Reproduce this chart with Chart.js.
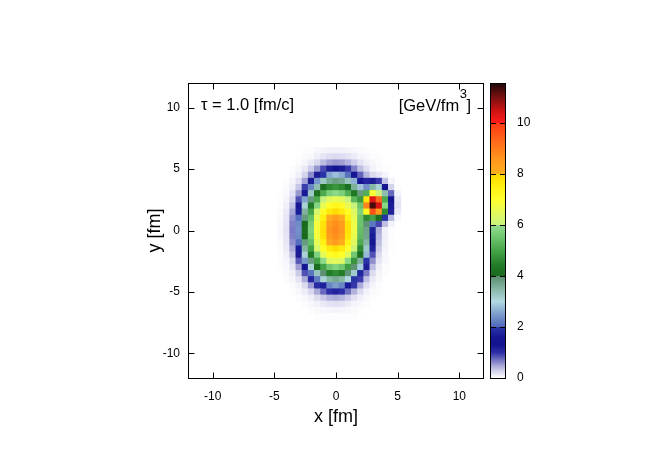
<!DOCTYPE html>
<html>
<head>
<meta charset="utf-8">
<script src="https://cdn.jsdelivr.net/npm/chart.js@4.4.1/dist/chart.umd.min.js"></script>
<style>
  html, body { margin: 0; background: #fff; }
</style>
</head>
<body>
<canvas id="c" width="670" height="469"></canvas>
<script>
/* ── energy density [GeV/fm^3] on a 0.5 fm grid ── */
const XS = [-5,-4.5,-4,-3.5,-3,-2.5,-2,-1.5,-1,-0.5,0,0.5,1,1.5,2,2.5,3,3.5,4,4.5,5];
const YS = [6.5,6,5.5,5,4.5,4,3.5,3,2.5,2,1.5,1,0.5,0,-0.5,-1,-1.5,-2,-2.5,-3,-3.5,-4,-4.5,-5,-5.5,-6,-6.5,-7];
const EPS = [
  [0,0,0,0,0,.01,.02,.04,.06,.08,.08,.08,.07,.05,.03,.02,.01,0,0,0,0],
  [0,0,0,0,.01,.03,.05,.1,.16,.2,.22,.21,.17,.12,.07,.04,.02,.01,0,0,0],
  [0,0,0,0,.02,.06,.13,.24,.38,.51,.55,.52,.42,.29,.17,.09,.04,.02,0,0,0],
  [0,0,0,.02,.05,.13,.29,.55,.88,1.2,1.3,1.22,.96,.65,.37,.2,.08,.03,.01,0,0],
  [0,0,0,.03,.09,.26,.6,1.2,2.0,2.6,2.8,2.62,2.1,1.38,.78,.41,.22,.15,.07,0,0],
  [0,0,.02,.06,.19,.51,1.2,2.45,3.23,3.65,3.8,3.68,3.3,2.68,1.6,1.1,1.2,.95,.35,.07,0],
  [0,0,.03,.1,.33,.94,2.3,3.4,4.1,4.6,4.8,4.62,4.14,3.58,2.82,2.37,3.5,3.1,1.28,.26,.01],
  [0,.01,.05,.17,.55,1.65,3.2,4.15,5.1,5.7,5.9,5.72,5.16,4.32,3.85,5.16,6.9,6.07,3.39,.76,.08],
  [0,.01,.07,.25,.85,2.55,3.85,5.05,6.0,6.45,6.6,6.46,6.03,5.26,4.82,7.69,10.3,9.3,5.09,1.3,.15],
  [0,.02,.09,.35,1.25,3.1,4.4,5.8,6.57,7.1,7.3,7.12,6.59,6.0,5.5,8.87,11.3,10.4,5.83,1.66,.17],
  [0,.03,.12,.48,1.7,3.55,4.98,6.27,7.12,7.65,7.9,7.66,7.12,6.4,5.75,7.17,9.6,8.45,4.64,1.16,.13],
  [0,.03,.15,.58,2.1,3.85,5.4,6.58,7.5,8.16,8.4,8.15,7.48,6.56,5.54,4.63,4.96,4.1,1.96,.4,.04],
  [0,.04,.16,.65,2.35,4.0,5.65,6.8,7.77,8.45,8.7,8.45,7.76,6.7,5.5,3.94,2.16,.9,.36,.08,0],
  [0,.04,.17,.68,2.4,4.05,5.75,6.85,7.85,8.56,8.8,8.54,7.8,6.7,5.42,3.76,1.77,.45,.09,.02,0],
  [0,.04,.16,.65,2.35,4.0,5.65,6.8,7.77,8.45,8.7,8.44,7.65,6.63,5.35,3.7,1.65,.41,.09,.02,0],
  [0,.03,.14,.58,2.07,3.83,5.4,6.57,7.48,8.15,8.4,8.12,7.4,6.45,5.1,3.5,1.45,.36,.08,.01,0],
  [0,.03,.12,.47,1.67,3.52,4.95,6.23,7.08,7.62,7.87,7.62,6.97,6.1,4.65,3.2,1.15,.3,.07,.01,0],
  [0,.02,.09,.35,1.22,3.1,4.35,5.73,6.52,7.07,7.25,7.05,6.47,5.55,4.1,2.75,.85,.22,.05,0,0],
  [0,.02,.06,.24,.82,2.45,3.8,4.95,5.93,6.38,6.53,6.37,5.87,4.77,3.58,1.95,.58,.16,.04,0,0],
  [0,.01,.04,.16,.52,1.53,3.08,4.07,4.97,5.57,5.78,5.56,4.9,3.95,2.9,1.18,.37,.1,.02,0,0],
  [0,0,.03,.09,.3,.85,2.12,3.3,3.98,4.44,4.65,4.42,3.93,3.18,1.82,.68,.22,.07,.02,0,0],
  [0,0,.02,.06,.17,.46,1.1,2.2,3.08,3.5,3.66,3.48,3.02,2.0,.94,.36,.12,.04,0,0,0],
  [0,0,0,.03,.08,.22,.53,1.05,1.75,2.3,2.5,2.28,1.65,.96,.46,.19,.07,.02,0,0,0],
  [0,0,0,.01,.04,.11,.24,.47,.75,1.0,1.11,1.0,.72,.43,.21,.08,.03,.01,0,0,0],
  [0,0,0,0,.02,.05,.1,.2,.31,.42,.45,.41,.3,.18,.09,.04,.01,0,0,0,0],
  [0,0,0,0,0,.02,.05,.08,.13,.17,.18,.17,.12,.07,.04,.02,0,0,0,0,0],
  [0,0,0,0,0,0,.02,.03,.05,.06,.07,.06,.05,.03,.01,0,0,0,0,0,0],
  [0,0,0,0,0,0,0,.01,.02,.02,.02,.02,.02,.01,0,0,0,0,0,0,0],
];

const X_TICKS  = [-10, -5, 0, 5, 10];
const Y_TICKS  = [-10, -5, 0, 5, 10];
const CB_TICKS = [0, 2, 4, 6, 8, 10];
const CB_MAX   = 11.57;

/* ── palette (gnuplot-like, with jumps at the even ticks) ── */
const PAL_V = [0,.25,.5,1,1.3,1.6,2,2.01,2.5,3,3.5,3.99,4,4.4,5,5.5,5.99,6,6.5,7,7.5,7.99,8,8.5,9,9.5,9.99,10,10.5,11,11.57];
const PAL_C = ['#ffffff','#d6d6ee','#a4a4d6','#2e2ea6','#141490','#161694','#2a36a8','#5068bc','#7c9ccc','#b2d8e2',
               '#86b6a4','#5a9070','#1a6a1e','#217a26','#46a448','#6cc46c','#92de8e','#c8f27e','#e4fa5a','#ffff2c',
               '#fff012','#ffd800','#ffb01e','#ff9a1e','#ff7c1c','#ff5a18','#ff3a14','#ff1c1c','#cc1212','#7a1010','#1c0808'];

const FONT = '"Liberation Sans", Arial, Helvetica, sans-serif';

function hex(c) { return [1, 3, 5].map(i => parseInt(c.substr(i, 2), 16)); }

function colorOf(v) {
  if (v <= PAL_V[0]) return PAL_C[0];
  for (let i = 1; i < PAL_V.length; i++) {
    if (v <= PAL_V[i]) {
      const t = (v - PAL_V[i - 1]) / (PAL_V[i] - PAL_V[i - 1]);
      const a = hex(PAL_C[i - 1]), b = hex(PAL_C[i]);
      return 'rgb(' + a.map((x, k) => Math.round(x + (b[k] - x) * t)).join(',') + ')';
    }
  }
  return PAL_C[PAL_C.length - 1];
}

const points = [], colors = [];
YS.forEach((y, j) => XS.forEach((x, i) => {
  const v = EPS[j][i];
  if (v > 0.004) { points.push({ x, y }); colors.push(colorOf(v)); }
}));

/* ── frame, inner ticks, labels, colour box ── */
const decor = {
  id: 'decor',
  afterDraw(chart) {
    const { ctx, chartArea: a, scales } = chart;
    const L = a.left + 0.5, R = Math.round(a.right) - 0.5, T = a.top + 0.5, B = Math.round(a.bottom) + 0.5;
    ctx.save();
    ctx.strokeStyle = '#000';
    ctx.lineWidth = 1;
    ctx.strokeRect(L, T, R - L, B - T);
    ctx.beginPath();
    X_TICKS.forEach(v => {
      const p = Math.round(scales.x.getPixelForValue(v)) + 0.5;
      ctx.moveTo(p, B); ctx.lineTo(p, B - 6);
      ctx.moveTo(p, T); ctx.lineTo(p, T + 6);
    });
    Y_TICKS.forEach(v => {
      const p = Math.round(scales.y.getPixelForValue(v)) + 0.5;
      ctx.moveTo(L, p); ctx.lineTo(L + 6, p);
      ctx.moveTo(R, p); ctx.lineTo(R - 6, p);
    });
    ctx.stroke();

    // colour box
    const cb = scales.y2;
    const x0 = Math.round(a.right) + 7, x1 = x0 + 14;
    const y0 = cb.getPixelForValue(CB_MAX), y1 = cb.getPixelForValue(0);
    const g = ctx.createLinearGradient(0, y1, 0, y0);
    PAL_V.forEach((v, i) => g.addColorStop(Math.min(1, v / CB_MAX), PAL_C[i]));
    ctx.fillStyle = g;
    ctx.fillRect(x0, y0, x1 - x0, y1 - y0);
    ctx.strokeRect(x0 - 0.5, T, x1 - x0 + 1, B - T);
    ctx.beginPath();
    CB_TICKS.slice(1).forEach(v => {
      const p = Math.round(cb.getPixelForValue(v)) + 0.5;
      ctx.moveTo(x0, p); ctx.lineTo(x0 + 5, p);
      ctx.moveTo(x1, p); ctx.lineTo(x1 - 5, p);
    });
    ctx.stroke();

    // labels inside the frame
    ctx.fillStyle = '#000';
    ctx.textBaseline = 'alphabetic';
    ctx.textAlign = 'left';
    ctx.font = '16.5px ' + FONT;
    ctx.fillText('τ = 1.0 [fm/c]', 201, 110);
    const w1 = ctx.measureText('[GeV/fm').width, w2 = ctx.measureText(']').width;
    ctx.font = '13px ' + FONT;
    const w3 = ctx.measureText('3').width;
    const xs = 471 - w1 - w2 - w3;
    ctx.font = '16.5px ' + FONT;
    ctx.fillText('[GeV/fm', xs, 111);
    ctx.font = '13px ' + FONT;
    ctx.fillText('3', xs + w1 + 0.5, 98);
    ctx.font = '16.5px ' + FONT;
    ctx.fillText(']', xs + w1 + w3, 111);
    ctx.restore();
  }
};

const tickFont = { family: FONT, size: 12 };
const titleFont = { family: FONT, size: 18 };
const setTicks = list => s => { s.ticks = list.map(v => ({ value: v })); };
const noGrid = { display: false, drawTicks: false, tickLength: 0 };

new Chart(document.getElementById('c'), {
  type: 'scatter',
  data: {
    datasets: [{
      data: points,
      pointStyle: 'rect',
      pointBackgroundColor: colors,
      pointBorderWidth: 0,
      pointRadius: c => {
        const s = c.chart.scales.x;
        const half = Math.abs(s.getPixelForValue(XS[1]) - s.getPixelForValue(XS[0])) / 2;
        return (half + 0.4) / Math.SQRT1_2;
      },
    }],
  },
  options: {
    responsive: false,
    animation: false,
    events: [],
    layout: { padding: { top: 83, left: 0, right: 0, bottom: 0 } },
    plugins: { legend: { display: false }, tooltip: { enabled: false } },
    scales: {
      x: {
        type: 'linear', min: -12, max: 12,
        afterBuildTicks: setTicks(X_TICKS),
        afterFit: s => { s.height = 91; },
        grid: noGrid, border: { display: false },
        ticks: { font: tickFont, color: '#000', padding: 11 },
        title: { display: true, text: 'x [fm]', font: titleFont, color: '#000', padding: { top: 0, bottom: 41 } },
      },
      y: {
        type: 'linear', min: -12, max: 12, position: 'left',
        afterBuildTicks: setTicks(Y_TICKS),
        afterFit: s => { s.width = 188; },
        grid: noGrid, border: { display: false },
        ticks: { font: tickFont, color: '#000', padding: 8 },
        title: { display: true, text: 'y [fm]', font: titleFont, color: '#000', padding: { top: 144, bottom: 0 } },
      },
      y2: {
        type: 'linear', min: 0, max: CB_MAX, position: 'right',
        afterBuildTicks: setTicks(CB_TICKS),
        afterFit: s => { s.width = 186; },
        grid: noGrid, border: { display: false },
        ticks: { font: tickFont, color: '#000', padding: 33 },
      },
    },
  },
  plugins: [decor],
});
</script>
</body>
</html>
